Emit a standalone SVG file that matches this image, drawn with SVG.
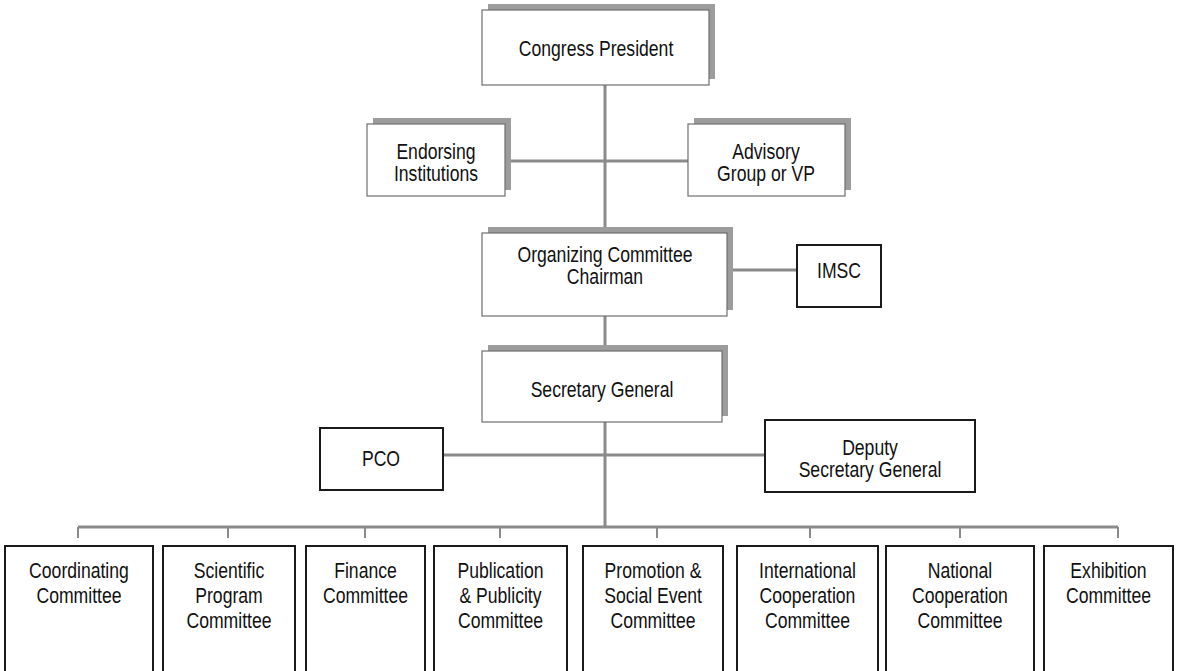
<svg xmlns="http://www.w3.org/2000/svg" width="1178" height="671" viewBox="0 0 1178 671">
<style>
.bg{fill:#fff}
.shadow{fill:#9c9c9c}
.sbox{fill:#fff;stroke:#6e6e6e;stroke-width:1.2}
.box{fill:#fff;stroke:#1a1a1a;stroke-width:2}
.conn{stroke:#8a8a8a;stroke-width:3;fill:none}
.tick{stroke:#8a8a8a;stroke-width:2;fill:none}
text{font-family:"Liberation Sans",Arial,sans-serif;font-size:22px;fill:#111;text-anchor:middle;transform-box:fill-box;transform-origin:center;transform:scaleX(0.8)}
</style>
<rect class="bg" x="0" y="0" width="1178" height="671"/>
<g id="connectors">
<line class="conn" x1="605" y1="85" x2="605" y2="527"/>
<line class="conn" x1="505" y1="161" x2="688" y2="161"/>
<line class="conn" x1="727" y1="270" x2="797" y2="270"/>
<line class="conn" x1="443" y1="455" x2="765" y2="455"/>
<line class="conn" x1="78" y1="527" x2="1118" y2="527"/>
<g class="tick">
<line x1="78" y1="527" x2="78" y2="538"/>
<line x1="228" y1="527" x2="228" y2="538"/>
<line x1="365" y1="527" x2="365" y2="538"/>
<line x1="500" y1="527" x2="500" y2="538"/>
<line x1="657" y1="527" x2="657" y2="538"/>
<line x1="810" y1="527" x2="810" y2="538"/>
<line x1="960" y1="527" x2="960" y2="538"/>
<line x1="1118" y1="527" x2="1118" y2="538"/>
</g>
</g>
<g id="congress-president">
<rect class="shadow" x="488" y="4" width="227" height="75"/>
<rect class="sbox" x="482" y="10" width="227" height="75"/>
<text x="596" y="56">Congress President</text>
</g>
<g id="endorsing-institutions">
<rect class="shadow" x="373" y="118" width="138" height="72"/>
<rect class="sbox" x="367" y="124" width="138" height="72"/>
<text x="436" y="159">Endorsing</text>
<text x="436" y="181">Institutions</text>
</g>
<g id="advisory-group">
<rect class="shadow" x="694" y="118" width="157" height="72"/>
<rect class="sbox" x="688" y="124" width="157" height="72"/>
<text x="766" y="159">Advisory</text>
<text x="766" y="181">Group or VP</text>
</g>
<g id="organizing-committee-chairman">
<rect class="shadow" x="488" y="227" width="245" height="83"/>
<rect class="sbox" x="482" y="233" width="245" height="83"/>
<text x="605" y="262">Organizing Committee</text>
<text x="605" y="284">Chairman</text>
</g>
<g id="imsc">
<rect class="box" x="797" y="245" width="84" height="62"/>
<text x="839" y="278">IMSC</text>
</g>
<g id="secretary-general">
<rect class="shadow" x="488" y="345" width="240" height="71"/>
<rect class="sbox" x="482" y="351" width="240" height="71"/>
<text x="602" y="397">Secretary General</text>
</g>
<g id="pco">
<rect class="box" x="320" y="428" width="123" height="62"/>
<text x="381" y="466">PCO</text>
</g>
<g id="deputy-secretary-general">
<rect class="box" x="765" y="420" width="210" height="72"/>
<text x="870" y="455">Deputy</text>
<text x="870" y="477">Secretary General</text>
</g>
<g id="coordinating-committee">
<rect class="box" x="5" y="546" width="148" height="130"/>
<text x="79" y="578">Coordinating</text>
<text x="79" y="603">Committee</text>
</g>
<g id="scientific-program-committee">
<rect class="box" x="163" y="546" width="132" height="130"/>
<text x="229" y="578">Scientific</text>
<text x="229" y="603">Program</text>
<text x="229" y="628">Committee</text>
</g>
<g id="finance-committee">
<rect class="box" x="306" y="546" width="119" height="130"/>
<text x="365.5" y="578">Finance</text>
<text x="365.5" y="603">Committee</text>
</g>
<g id="publication-publicity-committee">
<rect class="box" x="434" y="546" width="133" height="130"/>
<text x="500.5" y="578">Publication</text>
<text x="500.5" y="603">&amp; Publicity</text>
<text x="500.5" y="628">Committee</text>
</g>
<g id="promotion-social-event-committee">
<rect class="box" x="583" y="546" width="140" height="130"/>
<text x="653" y="578">Promotion &amp;</text>
<text x="653" y="603">Social Event</text>
<text x="653" y="628">Committee</text>
</g>
<g id="international-cooperation-committee">
<rect class="box" x="737" y="546" width="141" height="130"/>
<text x="807.5" y="578">International</text>
<text x="807.5" y="603">Cooperation</text>
<text x="807.5" y="628">Committee</text>
</g>
<g id="national-cooperation-committee">
<rect class="box" x="886" y="546" width="148" height="130"/>
<text x="960" y="578">National</text>
<text x="960" y="603">Cooperation</text>
<text x="960" y="628">Committee</text>
</g>
<g id="exhibition-committee">
<rect class="box" x="1044" y="546" width="129" height="130"/>
<text x="1108.5" y="578">Exhibition</text>
<text x="1108.5" y="603">Committee</text>
</g>
</svg>
